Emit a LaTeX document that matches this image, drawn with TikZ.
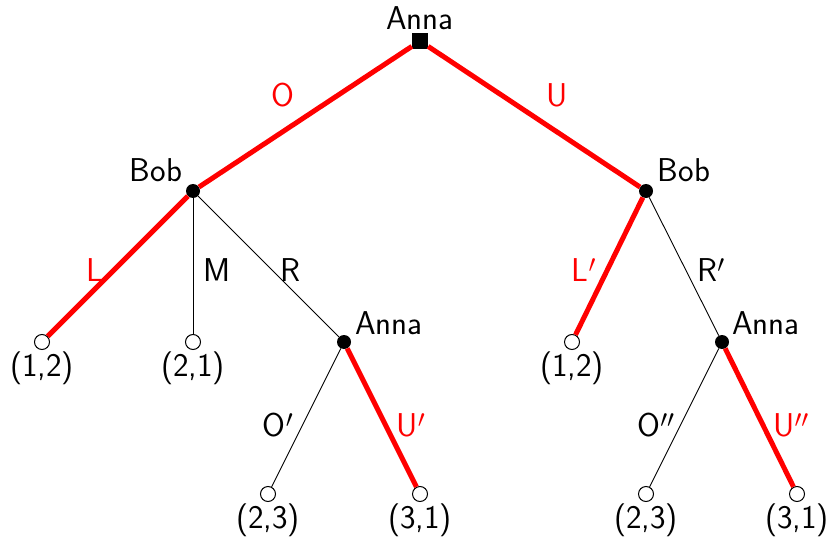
\documentclass[tikz,border=0pt]{standalone}
\begin{document}
\begin{tikzpicture}[x=1pt,y=-1pt,
  font=\sffamily\fontsize{33}{38}\selectfont,
  dec/.style={circle, fill=black, inner sep=0pt, minimum size=14pt},
  term/.style={circle, draw=black, fill=white, inner sep=0pt, minimum size=15pt, line width=1pt},
  rootnode/.style={rectangle, fill=black, inner sep=0pt, minimum size=16pt},
  win/.style={red, line width=5pt},
  lose/.style={black, line width=0.9pt},
  lab/.style={inner sep=0pt},
  rlab/.style={inner sep=0pt, text=red}
]
\useasboundingbox (0,0) rectangle (829,540);
% decision and terminal nodes
\node[rootnode] (r) at (420,41) {};
\node[dec] (b1) at (193,191) {};
\node[dec] (b2) at (646,191) {};
\node[term] (t1) at (42,342) {};
\node[term] (t2) at (193,342) {};
\node[dec] (a1) at (344,342) {};
\node[term] (t3) at (572,342) {};
\node[dec] (a2) at (722,342) {};
\node[term] (t4) at (268,494) {};
\node[term] (t5) at (420,494) {};
\node[term] (t6) at (646,494) {};
\node[term] (t7) at (797,494) {};
% edges
\draw[win] (r) -- (b1);
\draw[win] (r) -- (b2);
\draw[win] (b1) -- (t1);
\draw[lose] (b1) -- (t2);
\draw[lose] (b1) -- (a1);
\draw[win] (b2) -- (t3);
\draw[lose] (b2) -- (a2);
\draw[lose] (a1) -- (t4);
\draw[win] (a1) -- (t5);
\draw[lose] (a2) -- (t6);
\draw[win] (a2) -- (t7);
% player labels
\node[lab] (pr) at (420,18) {Anna};
\node[lab] (pb1) at (156,170) {Bob};
\node[lab] (pb2) at (684,170) {Bob};
\node[lab] (pa1) at (389,323) {Anna};
\node[lab] (pa2) at (766,323) {Anna};
% payoffs
\node[lab] (p1) at (42,368) {(1,2)};
\node[lab] (p2) at (193,368) {(2,1)};
\node[lab] (p3) at (572,368) {(1,2)};
\node[lab] (p4) at (268,520) {(2,3)};
\node[lab] (p5) at (420,520) {(3,1)};
\node[lab] (p6) at (646,520) {(2,3)};
\node[lab] (p7) at (797,520) {(3,1)};
% action labels
\node[rlab] (eO) at (283,95) {O};
\node[rlab] (eU) at (557,95) {U};
\node[rlab] (eL) at (95,270) {L};
\node[lab] (eM) at (217,270) {M};
\node[lab] (eR) at (290,270) {R};
\node[rlab] (eL2) at (584,270) {L$'$};
\node[lab] (eR2) at (711,270) {R$'$};
\node[lab] (eO2) at (278,425) {O$'$};
\node[rlab] (eU2) at (411,425) {U$'$};
\node[lab] (eO3) at (656,425) {O$''$};
\node[rlab] (eU3) at (791,425) {U$''$};
\end{tikzpicture}
\end{document}
